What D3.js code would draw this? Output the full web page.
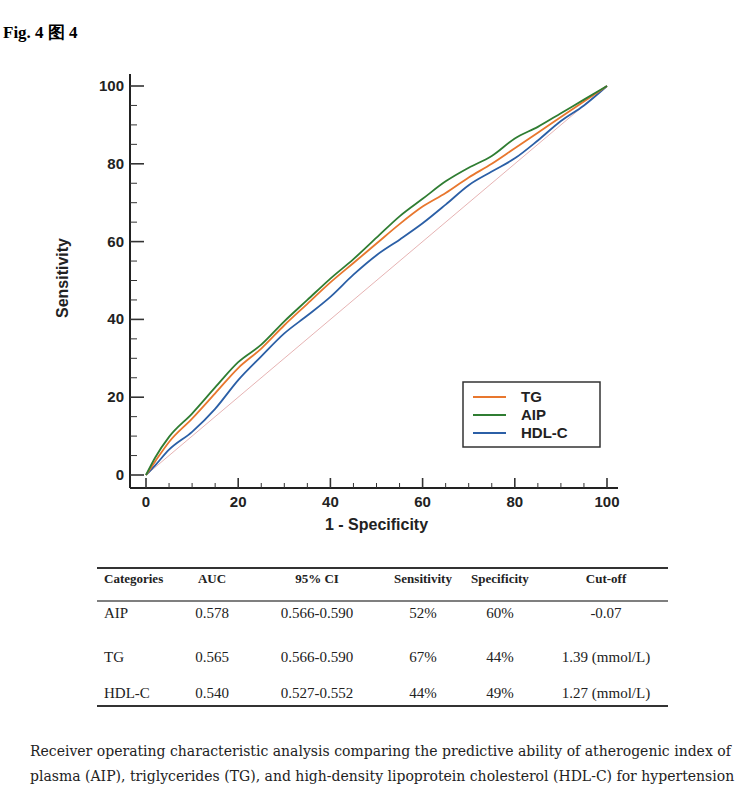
<!DOCTYPE html>
<html>
<head>
<meta charset="UTF-8">
<script src="https://d3js.org/d3.v7.min.js"></script>
<style>
  body { margin: 0; background: #fff; }
  svg text { font-family: "Liberation Sans", Arial, sans-serif; }
</style>
</head>
<body>
<svg width="740" height="793"></svg>
<script>
const fpr = [0, 2, 5, 10, 15, 20, 25, 30, 35, 40, 45, 50, 55, 60, 65, 70, 75, 80, 85, 90, 95, 100];
const tgSens  = [0, 3.5, 8.5, 14.5, 21, 27.5, 32.5, 38.5, 44, 49.5, 54.5, 59.5, 64.5, 69, 72.5, 76.5, 80, 84, 88, 92, 96, 100];
const aipSens = [0, 4.5, 9.8, 15.8, 22.5, 29, 33.5, 39.5, 45, 50.5, 55.5, 61, 66.5, 71, 75.5, 79, 82, 86.5, 89.5, 93, 96.5, 100];
const hdlSens = [0, 2.5, 6.5, 11.1, 17, 24.4, 30.5, 36.4, 41, 45.8, 51.5, 56.5, 60.5, 64.7, 69.5, 74.5, 78, 81.4, 86, 91, 95, 100];
const series = [
  { name: "TG", color: "#e8772e", values: tgSens },
  { name: "AIP", color: "#2f7d32", values: aipSens },
  { name: "HDL-C", color: "#2b5fa6", values: hdlSens }
];
const tableHead = ["Categories", "AUC", "95% CI", "Sensitivity", "Specificity", "Cut-off"];
const tableRows = [
  ["AIP", "0.578", "0.566-0.590", "52%", "60%", "-0.07"],
  ["TG", "0.565", "0.566-0.590", "67%", "44%", "1.39 (mmol/L)"],
  ["HDL-C", "0.540", "0.527-0.552", "44%", "49%", "1.27 (mmol/L)"]
];
const ticks = [0, 20, 40, 60, 80, 100];

const svg = d3.select("svg");
svg.append("text").attr("x", 3).attr("y", 38)
  .style("font-family", "Liberation Serif, serif").style("font-weight", "bold").style("font-size", "17px")
  .text("Fig. 4 图 4");

const x = d3.scaleLinear().domain([0, 100]).range([146, 607]);
const y = d3.scaleLinear().domain([0, 100]).range([475, 86]);
const axL = 130, axB = 488;

// diagonal
svg.append("line").attr("x1", x(0)).attr("y1", y(0)).attr("x2", x(100)).attr("y2", y(100))
  .attr("stroke", "#e0a0a0").attr("stroke-width", 0.8);

// axes
svg.append("line").attr("x1", axL).attr("x2", axL).attr("y1", 74).attr("y2", axB).attr("stroke", "#222").attr("stroke-width", 2);
svg.append("line").attr("x1", axL).attr("x2", 618).attr("y1", axB).attr("y2", axB).attr("stroke", "#222").attr("stroke-width", 2);
d3.range(0, 101, 5).forEach(v => {
  const major = v % 20 === 0;
  svg.append("line").attr("x1", axL).attr("x2", axL + (major ? 14 : 7)).attr("y1", y(v)).attr("y2", y(v))
    .attr("stroke", "#333").attr("stroke-width", major ? 1.6 : 1);
  svg.append("line").attr("y1", axB).attr("y2", axB - (major ? 10 : 5)).attr("x1", x(v)).attr("x2", x(v))
    .attr("stroke", "#333").attr("stroke-width", major ? 1.6 : 1);
});
ticks.forEach(v => {
  svg.append("text").attr("x", axL - 6).attr("y", y(v) + 5).attr("text-anchor", "end")
    .style("font-weight", "bold").style("font-size", "15px").attr("fill", "#222").text(v);
  svg.append("text").attr("x", x(v)).attr("y", 507).attr("text-anchor", "middle")
    .style("font-weight", "bold").style("font-size", "15px").attr("fill", "#222").text(v);
});
svg.append("text").attr("x", x(50)).attr("y", 530).attr("text-anchor", "middle")
  .style("font-weight", "bold").style("font-size", "16px").attr("fill", "#222").text("1 - Specificity");
svg.append("text").attr("transform", "translate(68,278) rotate(-90)").attr("text-anchor", "middle")
  .style("font-weight", "bold").style("font-size", "16px").attr("fill", "#222").text("Sensitivity");

const line = d3.line().x((d, i) => x(fpr[i])).y(d => y(d)).curve(d3.curveMonotoneX);
[series[2], series[0], series[1]].forEach(s => {
  svg.append("path").attr("d", line(s.values)).attr("fill", "none")
    .attr("stroke", s.color).attr("stroke-width", 1.8);
});

// legend
const lg = svg.append("g").attr("transform", "translate(463,382)");
lg.append("rect").attr("width", 137).attr("height", 65).attr("fill", "#fff").attr("stroke", "#333").attr("stroke-width", 1.5);
series.forEach((s, i) => {
  const yy = 15 + i * 18;
  lg.append("line").attr("x1", 10).attr("x2", 43).attr("y1", yy).attr("y2", yy).attr("stroke", s.color).attr("stroke-width", 2);
  lg.append("text").attr("x", 58).attr("y", yy + 5).style("font-weight", "bold").style("font-size", "15px").attr("fill", "#222").text(s.name);
});

// table
const colX = [104, 212, 317, 423, 500, 606];
const anchors = ["start", "middle", "middle", "middle", "middle", "middle"];
const tf = "Liberation Serif, serif";
svg.append("line").attr("x1", 97).attr("x2", 668).attr("y1", 568).attr("y2", 568).attr("stroke", "#333").attr("stroke-width", 2);
svg.append("line").attr("x1", 97).attr("x2", 668).attr("y1", 601).attr("y2", 601).attr("stroke", "#555").attr("stroke-width", 1.5);
svg.append("line").attr("x1", 97).attr("x2", 668).attr("y1", 706).attr("y2", 706).attr("stroke", "#333").attr("stroke-width", 2);
tableHead.forEach((h, i) => {
  svg.append("text").attr("x", colX[i]).attr("y", 583).attr("text-anchor", anchors[i])
    .style("font-family", tf).style("font-weight", "bold").style("font-size", "13px").attr("fill", "#222").text(h);
});
const rowY = [618, 662, 698];
tableRows.forEach((r, j) => r.forEach((c, i) => {
  svg.append("text").attr("x", colX[i] + (i === 0 ? 0 : 0)).attr("y", rowY[j]).attr("text-anchor", anchors[i])
    .style("font-family", tf).style("font-size", "15px").attr("fill", "#222").text(c);
}));

// caption
const cap = ["Receiver operating characteristic analysis comparing the predictive ability of atherogenic index of",
  "plasma (AIP), triglycerides (TG), and high-density lipoprotein cholesterol (HDL-C) for hypertension"];
cap.forEach((t, i) => {
  svg.append("text").attr("x", 30).attr("y", 756 + i * 25)
    .style("font-family", "DejaVu Serif, serif").style("font-size", "14px").attr("fill", "#222").text(t);
});
</script>
</body>
</html>
